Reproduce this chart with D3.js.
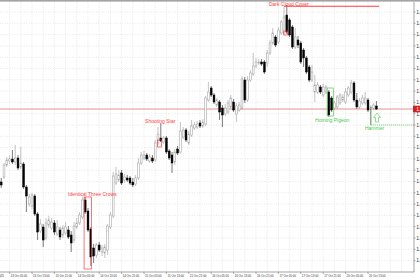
<!DOCTYPE html>
<html lang="en">
<head>
<meta charset="UTF-8">
<title>EURUSD H1 candlestick patterns</title>
<script src="https://d3js.org/d3.v7.min.js"></script>
<style>
  html, body { margin: 0; padding: 0; background: #fff; }
  svg { display: block; }
  text { font-family: "Liberation Sans", Arial, sans-serif; }
</style>
</head>
<body>
<svg id="chart" width="420" height="280"></svg>
<script>
// H1 bars
const opens = [1.1560,1.1565,1.1577,1.1581,1.1583,1.1580,1.1584,1.1575,1.1578,1.1555,
  1.1538,1.1536,1.1546,1.1528,1.1511,1.1515,1.1504,1.1517,1.1514,1.1519,
  1.1508,1.1512,1.1507,1.1509,1.1512,1.1507,1.1502,1.1515,1.1519,1.1525,
  1.1542,1.1531,1.1513,1.1494,1.1487,1.1497,1.1490,1.1489,1.1492,1.1515,
  1.1526,1.1559,1.1562,1.1569,1.1562,1.1564,1.1564,1.1560,1.1558,1.1564,
  1.1579,1.1584,1.1587,1.1581,1.1584,1.1582,1.1599,1.1604,1.1600,1.1604,
  1.1591,1.1587,1.1580,1.1593,1.1590,1.1605,1.1612,1.1599,1.1607,1.1614,
  1.1615,1.1619,1.1616,1.1618,1.1642,1.1654,1.1647,1.1637,1.1640,1.1634,
  1.1628,1.1630,1.1635,1.1640,1.1628,1.1632,1.1634,1.1662,1.1642,1.1662,
  1.1668,1.1676,1.1679,1.1680,1.1680,1.1679,1.1689,1.1699,1.1705,1.1700,
  1.1709,1.1709,1.1727,1.1722,1.1715,1.1695,1.1702,1.1699,1.1692,1.1684,
  1.1675,1.1662,1.1650,1.1650,1.1655,1.1647,1.1650,1.1650,1.1644,1.1634,
  1.1635,1.1639,1.1642,1.1640,1.1647,1.1650,1.1659,1.1642,1.1635,1.1639,
  1.1639,1.1642,1.1632,1.1634,1.1636];
const highs = [1.1564,1.1579,1.1585,1.1587,1.1592,1.1597,1.1587,1.1595,1.1580,1.1557,
  1.1548,1.1549,1.1548,1.1530,1.1523,1.1518,1.1524,1.1526,1.1524,1.1522,
  1.1522,1.1515,1.1517,1.1520,1.1516,1.1511,1.1520,1.1524,1.1530,1.1545,
  1.1545,1.1534,1.1515,1.1498,1.1499,1.1500,1.1497,1.1498,1.1518,1.1530,
  1.1570,1.1575,1.1572,1.1572,1.1568,1.1567,1.1566,1.1564,1.1567,1.1584,
  1.1590,1.1591,1.1589,1.1588,1.1587,1.1602,1.1615,1.1619,1.1606,1.1606,
  1.1593,1.1590,1.1593,1.1596,1.1620,1.1615,1.1614,1.1611,1.1622,1.1620,
  1.1621,1.1622,1.1623,1.1646,1.1660,1.1656,1.1649,1.1644,1.1642,1.1637,
  1.1638,1.1642,1.1647,1.1643,1.1639,1.1640,1.1666,1.1665,1.1666,1.1672,
  1.1689,1.1684,1.1683,1.1683,1.1682,1.1692,1.1702,1.1714,1.1707,1.1715,
  1.1722,1.1735,1.1737,1.1724,1.1717,1.1714,1.1706,1.1701,1.1694,1.1686,
  1.1677,1.1677,1.1667,1.1660,1.1657,1.1658,1.1657,1.1652,1.1646,1.1641,
  1.1647,1.1649,1.1648,1.1654,1.1656,1.1662,1.1661,1.1649,1.1644,1.1647,
  1.1650,1.1644,1.1637,1.1639,1.1641];
const lows = [1.1554,1.1563,1.1575,1.1578,1.1578,1.1577,1.1572,1.1573,1.1553,1.1530,
  1.1535,1.1533,1.1526,1.1502,1.1509,1.1495,1.1502,1.1514,1.1512,1.1507,
  1.1506,1.1502,1.1504,1.1507,1.1503,1.1490,1.1499,1.1513,1.1517,1.1523,
  1.1528,1.1510,1.1476,1.1479,1.1484,1.1490,1.1486,1.1484,1.1487,1.1513,
  1.1524,1.1557,1.1560,1.1557,1.1559,1.1560,1.1557,1.1555,1.1556,1.1562,
  1.1577,1.1582,1.1581,1.1579,1.1579,1.1580,1.1597,1.1600,1.1598,1.1588,
  1.1582,1.1569,1.1577,1.1587,1.1588,1.1603,1.1600,1.1597,1.1605,1.1612,
  1.1613,1.1614,1.1614,1.1616,1.1640,1.1645,1.1638,1.1635,1.1622,1.1615,
  1.1626,1.1628,1.1633,1.1630,1.1620,1.1630,1.1632,1.1639,1.1640,1.1660,
  1.1666,1.1674,1.1677,1.1676,1.1668,1.1675,1.1687,1.1697,1.1695,1.1698,
  1.1707,1.1707,1.1708,1.1705,1.1693,1.1693,1.1694,1.1678,1.1675,1.1668,
  1.1660,1.1660,1.1640,1.1648,1.1648,1.1645,1.1648,1.1625,1.1630,1.1632,
  1.1633,1.1637,1.1640,1.1638,1.1645,1.1648,1.1640,1.1633,1.1633,1.1637,
  1.1637,1.1630,1.1617,1.1632,1.1632];
const closes = [1.1557,1.1577,1.1582,1.1583,1.1580,1.1584,1.1574,1.1579,1.1555,1.1546,
  1.1545,1.1547,1.1528,1.1510,1.1518,1.1502,1.1519,1.1522,1.1520,1.1510,
  1.1515,1.1505,1.1514,1.1515,1.1505,1.1499,1.1516,1.1519,1.1527,1.1542,
  1.1530,1.1512,1.1485,1.1486,1.1497,1.1492,1.1494,1.1495,1.1516,1.1527,
  1.1566,1.1568,1.1567,1.1559,1.1565,1.1562,1.1559,1.1557,1.1564,1.1579,
  1.1587,1.1587,1.1583,1.1585,1.1581,1.1599,1.1608,1.1601,1.1604,1.1590,
  1.1584,1.1579,1.1590,1.1589,1.1611,1.1612,1.1602,1.1608,1.1616,1.1617,
  1.1618,1.1616,1.1620,1.1644,1.1650,1.1647,1.1640,1.1642,1.1630,1.1627,
  1.1634,1.1639,1.1644,1.1632,1.1636,1.1637,1.1663,1.1642,1.1662,1.1669,
  1.1676,1.1680,1.1680,1.1678,1.1670,1.1689,1.1699,1.1709,1.1697,1.1712,
  1.1720,1.1725,1.1710,1.1707,1.1695,1.1705,1.1697,1.1680,1.1684,1.1670,
  1.1662,1.1670,1.1657,1.1657,1.1650,1.1655,1.1655,1.1627,1.1632,1.1639,
  1.1645,1.1647,1.1645,1.1650,1.1654,1.1659,1.1642,1.1635,1.1641,1.1644,
  1.1644,1.1632,1.1635,1.1637,1.1633];

// time axis: bar index of each label (bar 0 = 13 Oct 02:00)
const timeLabelBars = [-5, 3, 11, 19, 27, 35, 43, 51, 59, 67, 75, 83, 91, 99, 107, 115, 123, 131];
const timeLabels = ["10 Oct 2025", "13 Oct 05:00", "13 Oct 13:00", "13 Oct 21:00", "14 Oct 05:00",
  "14 Oct 13:00", "14 Oct 21:00", "15 Oct 05:00", "15 Oct 13:00", "15 Oct 21:00", "16 Oct 05:00",
  "16 Oct 13:00", "16 Oct 21:00", "17 Oct 05:00", "17 Oct 13:00", "17 Oct 21:00", "20 Oct 05:00",
  "20 Oct 13:00"];

const priceTicks = [1.17300, 1.17187, 1.17074, 1.16961, 1.16848, 1.16735, 1.16622, 1.16509,
  1.16396, 1.16283, 1.16170, 1.16057, 1.15944, 1.15831, 1.15718, 1.15605, 1.15492, 1.15379,
  1.15266, 1.15153, 1.15040, 1.14927, 1.14814];

// pattern marks: label anchor (bar, price) and box (bars, price range)
const patternNames = ["Dark Cloud Cover", "Shooting Star", "Identical Three Crows", "Homing Pigeon", "Hammer"];
const patternBull = [false, false, false, true, true];
const patternLabelBar = [95.6, 51.4, 23.9, 112.1, 129.9];
const patternLabelPrice = [1.17362, 1.16190, 1.15460, 1.16200, 1.16125];
const patternBoxBars = [[100.9, 102.3], [55.8, 57.2], [29.6, 32.2], [116.4, 118.6], null];
const patternBoxPrices = [[1.1711, 1.1707], [1.1602, 1.1595], [1.1545, 1.1473], [1.1654, 1.1626], null];

const hammerBar = 132;

const svg = d3.select("#chart");
const plotRight = 414, plotTop = 2, plotBottom = 272;

const x = d3.scaleLinear().domain([0, 145]).range([1.2, 1.2 + 2.8 * 145]);
const y = d3.scaleLinear().domain([1.1470, 1.1740]).range([plotBottom, plotTop]);

const bars = opens.map((o, i) => ({ i, o, h: highs[i], l: lows[i], c: closes[i] }));

// top border band
svg.append("rect").attr("x", 0).attr("y", 0).attr("width", 420).attr("height", 1.6).attr("fill", "#a3a3a3");

// grid
const grid = svg.append("g").attr("stroke", "#d9d9d9").attr("stroke-width", 0.6).attr("stroke-dasharray", "1,1.4");
grid.selectAll("line.v")
  .data(d3.range(3, 145, 4))
  .join("line")
  .attr("x1", d => x(d)).attr("x2", d => x(d))
  .attr("y1", plotTop).attr("y2", plotBottom);
grid.selectAll("line.h")
  .data(priceTicks)
  .join("line")
  .attr("x1", 0).attr("x2", plotRight)
  .attr("y1", d => y(d)).attr("y2", d => y(d));

// bid line
const last = closes[closes.length - 1];
svg.append("line")
  .attr("x1", 0).attr("x2", plotRight)
  .attr("y1", y(last)).attr("y2", y(last))
  .attr("stroke", "#e57373").attr("stroke-width", 0.8);

// candles
const candle = svg.append("g").selectAll("g").data(bars).join("g");
candle.append("line")
  .attr("x1", d => x(d.i)).attr("x2", d => x(d.i))
  .attr("y1", d => y(d.h)).attr("y2", d => y(d.l))
  .attr("stroke", d => d.c >= d.o ? "#9a9a9a" : "#222")
  .attr("stroke-width", 0.6);
candle.append("rect")
  .attr("x", d => x(d.i) - 0.9)
  .attr("width", 1.8)
  .attr("y", d => y(Math.max(d.o, d.c)))
  .attr("height", d => Math.max(0.7, Math.abs(y(d.o) - y(d.c))))
  .attr("fill", d => d.c >= d.o ? "#fff" : "#000")
  .attr("stroke", d => d.c >= d.o ? "#9a9a9a" : "#000")
  .attr("stroke-width", 0.5);

// pattern annotations
const red = "#ff3b3b", green = "#4cc94c";
patternNames.forEach((name, k) => {
  const col = patternBull[k] ? green : red;
  svg.append("text")
    .attr("x", x(patternLabelBar[k]))
    .attr("y", y(patternLabelPrice[k]))
    .attr("font-size", 5)
    .attr("fill", col)
    .text(name);
  if (patternBoxBars[k]) {
    const [b0, b1] = patternBoxBars[k];
    const [p0, p1] = patternBoxPrices[k];
    svg.append("rect")
      .attr("x", x(b0)).attr("width", x(b1) - x(b0))
      .attr("y", y(p0)).attr("height", y(p1) - y(p0))
      .attr("fill", "none").attr("stroke", col).attr("stroke-width", 0.7);
  }
});

// dark cloud cover resistance at the top
svg.append("line")
  .attr("x1", x(101)).attr("x2", x(135))
  .attr("y1", y(highs[102]) + 1.2).attr("y2", y(highs[102]) + 1.2)
  .attr("stroke", red).attr("stroke-width", 1.1);

// hammer: wick mark, support level and arrow
const hx = x(hammerBar), hy = y(lows[hammerBar]);
svg.append("line")
  .attr("x1", hx).attr("x2", hx)
  .attr("y1", y(closes[hammerBar])).attr("y2", hy)
  .attr("stroke", "#3a8a3a").attr("stroke-width", 0.7);
svg.append("line")
  .attr("x1", hx).attr("x2", plotRight)
  .attr("y1", hy).attr("y2", hy)
  .attr("stroke", green).attr("stroke-width", 0.7).attr("stroke-dasharray", "1.2,0.8");
svg.append("path")
  .attr("transform", `translate(${x(hammerBar + 2) + 0.6},${y(1.16245)})`)
  .attr("d", "M0,-4.5L3.5,0L1.5,0L1.5,4.5L-1.5,4.5L-1.5,0L-3.5,0Z")
  .attr("fill", "none").attr("stroke", green).attr("stroke-width", 0.6);

// axes
svg.append("line").attr("x1", plotRight).attr("x2", plotRight).attr("y1", plotTop).attr("y2", plotBottom)
  .attr("stroke", "#666").attr("stroke-width", 0.6);
svg.append("line").attr("x1", 0).attr("x2", plotRight).attr("y1", plotBottom).attr("y2", plotBottom)
  .attr("stroke", "#666").attr("stroke-width", 0.6);

const py = svg.append("g");
py.selectAll("line").data(priceTicks).join("line")
  .attr("x1", plotRight).attr("x2", plotRight + 1.5)
  .attr("y1", d => y(d)).attr("y2", d => y(d))
  .attr("stroke", "#666").attr("stroke-width", 0.5);
py.selectAll("text").data(priceTicks).join("text")
  .attr("x", plotRight + 2.2)
  .attr("y", d => y(d) + 1.8)
  .attr("font-size", 5)
  .attr("fill", "#333")
  .text(d => d3.format(".5f")(d));

// current price tag
svg.append("rect")
  .attr("x", plotRight - 1).attr("width", 8)
  .attr("y", y(last) - 3.3).attr("height", 6.6)
  .attr("fill", "#d32020");
svg.append("text")
  .attr("x", plotRight + 2.2).attr("y", y(last) + 1.8)
  .attr("font-size", 5).attr("fill", "#fff")
  .text(d3.format(".5f")(last));

const tx = svg.append("g");
tx.selectAll("line").data(timeLabelBars).join("line")
  .attr("x1", d => x(d)).attr("x2", d => x(d))
  .attr("y1", plotBottom).attr("y2", plotBottom + 2)
  .attr("stroke", "#666").attr("stroke-width", 0.5);
tx.selectAll("text").data(timeLabelBars).join("text")
  .attr("x", d => x(d) + 1)
  .attr("y", plotBottom + 4.6)
  .attr("font-size", 2.9)
  .attr("fill", "#333")
  .text((d, k) => timeLabels[k]);
</script>
</body>
</html>
